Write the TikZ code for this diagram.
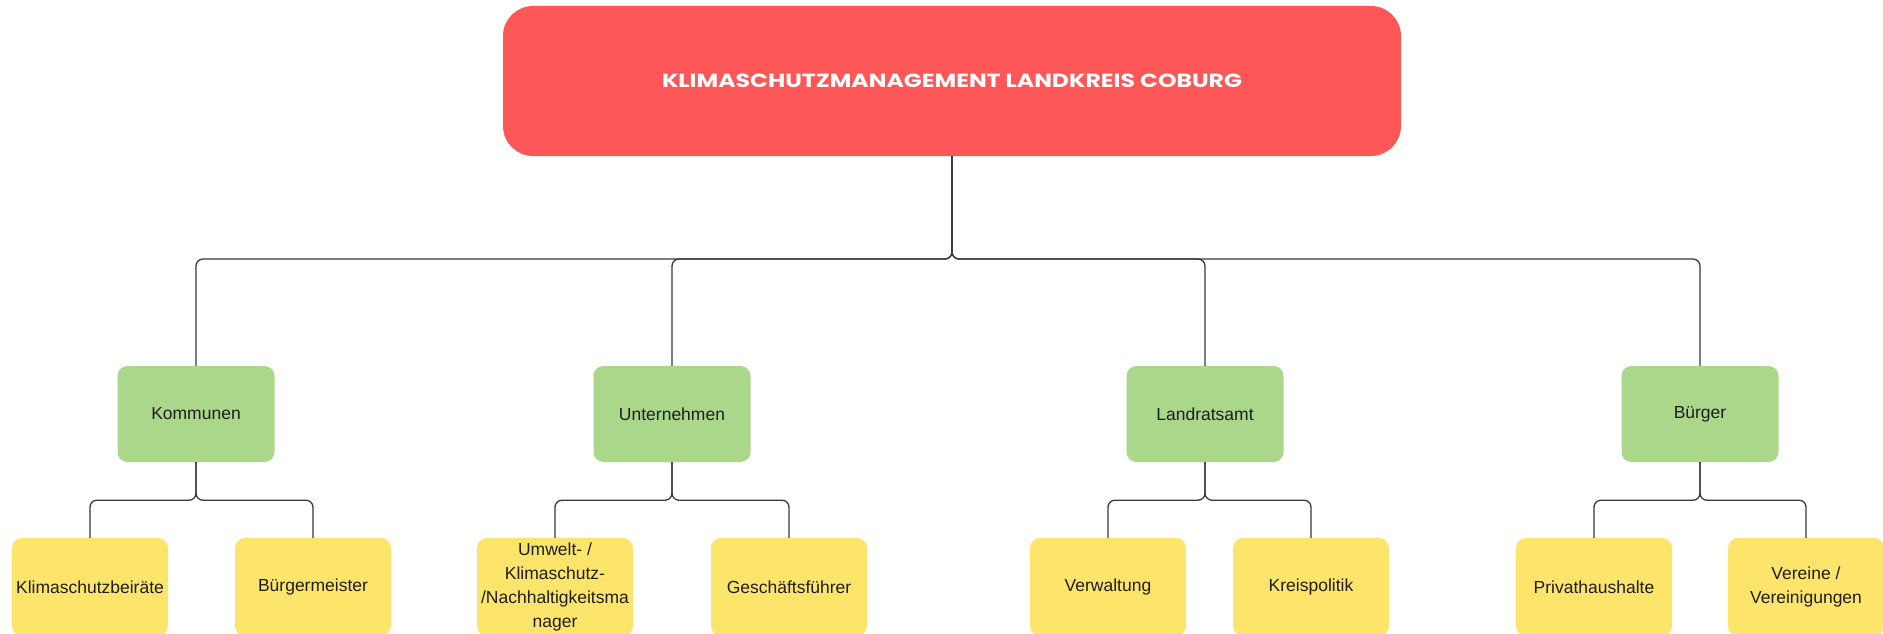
\documentclass[tikz,border=0pt]{standalone}
\usepackage{fontspec}
\usepackage{graphicx}
\setmainfont{Liberation Sans}
\newfontfamily\titlefont{Poppins}
\definecolor{topred}{HTML}{FF5757}
\definecolor{boxgreen}{HTML}{AAD789}
\definecolor{boxyellow}{HTML}{FDE56B}
\definecolor{linegray}{HTML}{3A3A3A}
\definecolor{txt}{HTML}{1E1E1E}
\begin{document}
\begin{tikzpicture}[x=1pt,y=-1pt,
  topbox/.style={fill=topred, rounded corners=30pt, minimum width=898pt, minimum height=150pt, inner sep=0pt,
     font=\titlefont\bfseries\fontsize{19}{22}\selectfont, text=white},
  greenbox/.style={fill=boxgreen, rounded corners=10pt, minimum width=157pt, minimum height=96pt, inner sep=0pt,
     font=\fontsize{17.5}{24}\selectfont, text=txt, align=center},
  yellowbox/.style={fill=boxyellow, rounded corners=10pt, minimum width=156pt, minimum height=98pt, inner sep=0pt,
     font=\fontsize{17.5}{24}\selectfont, text=txt, align=center},
  conn/.style={draw=linegray, line width=1.3pt, rounded corners=7pt}]
\useasboundingbox (0,0) rectangle (1883,634);
\clip (0,0) rectangle (1883,634);
\fill[white] (0,0) rectangle (1883,634);

\node[topbox] (root) at (952,81) {\scalebox{1.24}[1]{KLIMASCHUTZMANAGEMENT LANDKREIS COBURG}};

\node[greenbox] (kom) at (196,414) {Kommunen};
\node[greenbox] (unt) at (672,414) {Unternehmen};
\node[greenbox] (lra) at (1205,414) {Landratsamt};
\node[greenbox] (bue) at (1700,414) {Bürger};

\node[yellowbox] (kb) at (90,587) {Klimaschutzbeiräte};
\node[yellowbox] (bm) at (313,587) {Bürgermeister};
\node[yellowbox] (um) at (555,587) {Umwelt- /\\Klimaschutz-\\/Nachhaltigkeitsma\\nager};
\node[yellowbox] (gf) at (789,587) {Geschäftsführer};
\node[yellowbox] (vw) at (1108,587) {Verwaltung};
\node[yellowbox] (kp) at (1311,587) {Kreispolitik};
\node[yellowbox] (ph) at (1594,587) {Privathaushalte};
\node[yellowbox] (ve) at (1806,587) {Vereine /\\Vereinigungen};

\coordinate (hub) at (952,259);
\foreach \g in {kom,unt,lra,bue}{
  \draw[conn] (root.south) -- (hub) -| (\g.north);
}
\path (kom.south) ++(0,38) coordinate (hk);
\path (unt.south) ++(0,38) coordinate (hu);
\path (lra.south) ++(0,38) coordinate (hl);
\path (bue.south) ++(0,38) coordinate (hb);
\draw[conn] (kom.south) -- (hk) -| (kb.north);
\draw[conn] (kom.south) -- (hk) -| (bm.north);
\draw[conn] (unt.south) -- (hu) -| (um.north);
\draw[conn] (unt.south) -- (hu) -| (gf.north);
\draw[conn] (lra.south) -- (hl) -| (vw.north);
\draw[conn] (lra.south) -- (hl) -| (kp.north);
\draw[conn] (bue.south) -- (hb) -| (ph.north);
\draw[conn] (bue.south) -- (hb) -| (ve.north);
\end{tikzpicture}
\end{document}
